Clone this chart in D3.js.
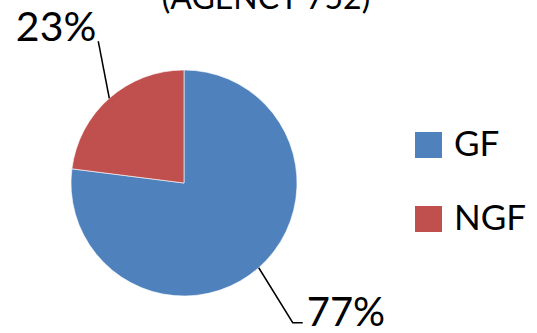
<!DOCTYPE html>
<html>
<head>
<meta charset="utf-8">
<script src="https://cdn.jsdelivr.net/npm/d3@7"></script>
<style>
  html, body { margin: 0; padding: 0; background: #fff; }
  svg { display: block; }
  text { font-family: Lato, "Open Sans", sans-serif; fill: #000; }
</style>
</head>
<body>
<svg id="chart" width="537" height="333"></svg>
<script>
const categories = ["GF", "NGF"];
const values = [77, 23];
const colors = ["#4F81BD", "#C0504D"];
const titleText = "(AGENCY 752)";

const W = 537, H = 333;
const cx = 184, cy = 183, R = 113;
const svg = d3.select("#chart");

svg.append("text")
  .attr("x", 266).attr("y", 9)
  .attr("text-anchor", "middle")
  .style("font-size", "32px")
  .text(titleText);

const total = d3.sum(values);
const pie = d3.pie().sort(null).startAngle(0).endAngle(2 * Math.PI)(values);
const arc = d3.arc().innerRadius(0).outerRadius(R);

const g = svg.append("g").attr("transform", `translate(${cx},${cy})`);
g.selectAll("path").data(pie).join("path")
  .attr("d", arc)
  .attr("fill", (d, i) => colors[i])
  .attr("stroke", "#fff")
  .attr("stroke-width", 0.6);

// labels with leader lines
pie.forEach((d, i) => {
  const a = (d.startAngle + d.endAngle) / 2;
  const ex = Math.sin(a) * R, ey = -Math.cos(a) * R;
  const pct = Math.round(d.value / total * 100) + "%";
  if (ey > 0) {
    const p1 = [ex, ey], p2 = [ex + 34, ey + 55], p3 = [ex + 44, ey + 55];
    g.append("path").attr("d", d3.line()([p1, p2, p3]))
      .attr("fill", "none").attr("stroke", "#000").attr("stroke-width", 1.5);
    g.append("text").attr("x", p3[0] + 4).attr("y", p3[1] + 3)
      .style("font-size", "40px").text(pct);
  } else {
    const p1 = [ex, ey], p2 = [ex - 11, ey - 57];
    g.append("path").attr("d", d3.line()([p1, p2]))
      .attr("fill", "none").attr("stroke", "#000").attr("stroke-width", 1.5);
    g.append("text").attr("x", p2[0] - 2).attr("y", p2[1] - 0.5)
      .attr("text-anchor", "end")
      .style("font-size", "41px").text(pct);
  }
});

// legend
const legend = svg.append("g").attr("transform", "translate(415,132)");
const leg = legend.selectAll("g").data(categories).join("g")
  .attr("transform", (d, i) => `translate(0,${i * 74})`);
leg.append("rect").attr("width", 27).attr("height", 26)
  .attr("fill", (d, i) => colors[i]);
leg.append("text").attr("x", 39).attr("y", 24)
  .style("font-size", "35px").text(d => d);
</script>
</body>
</html>
